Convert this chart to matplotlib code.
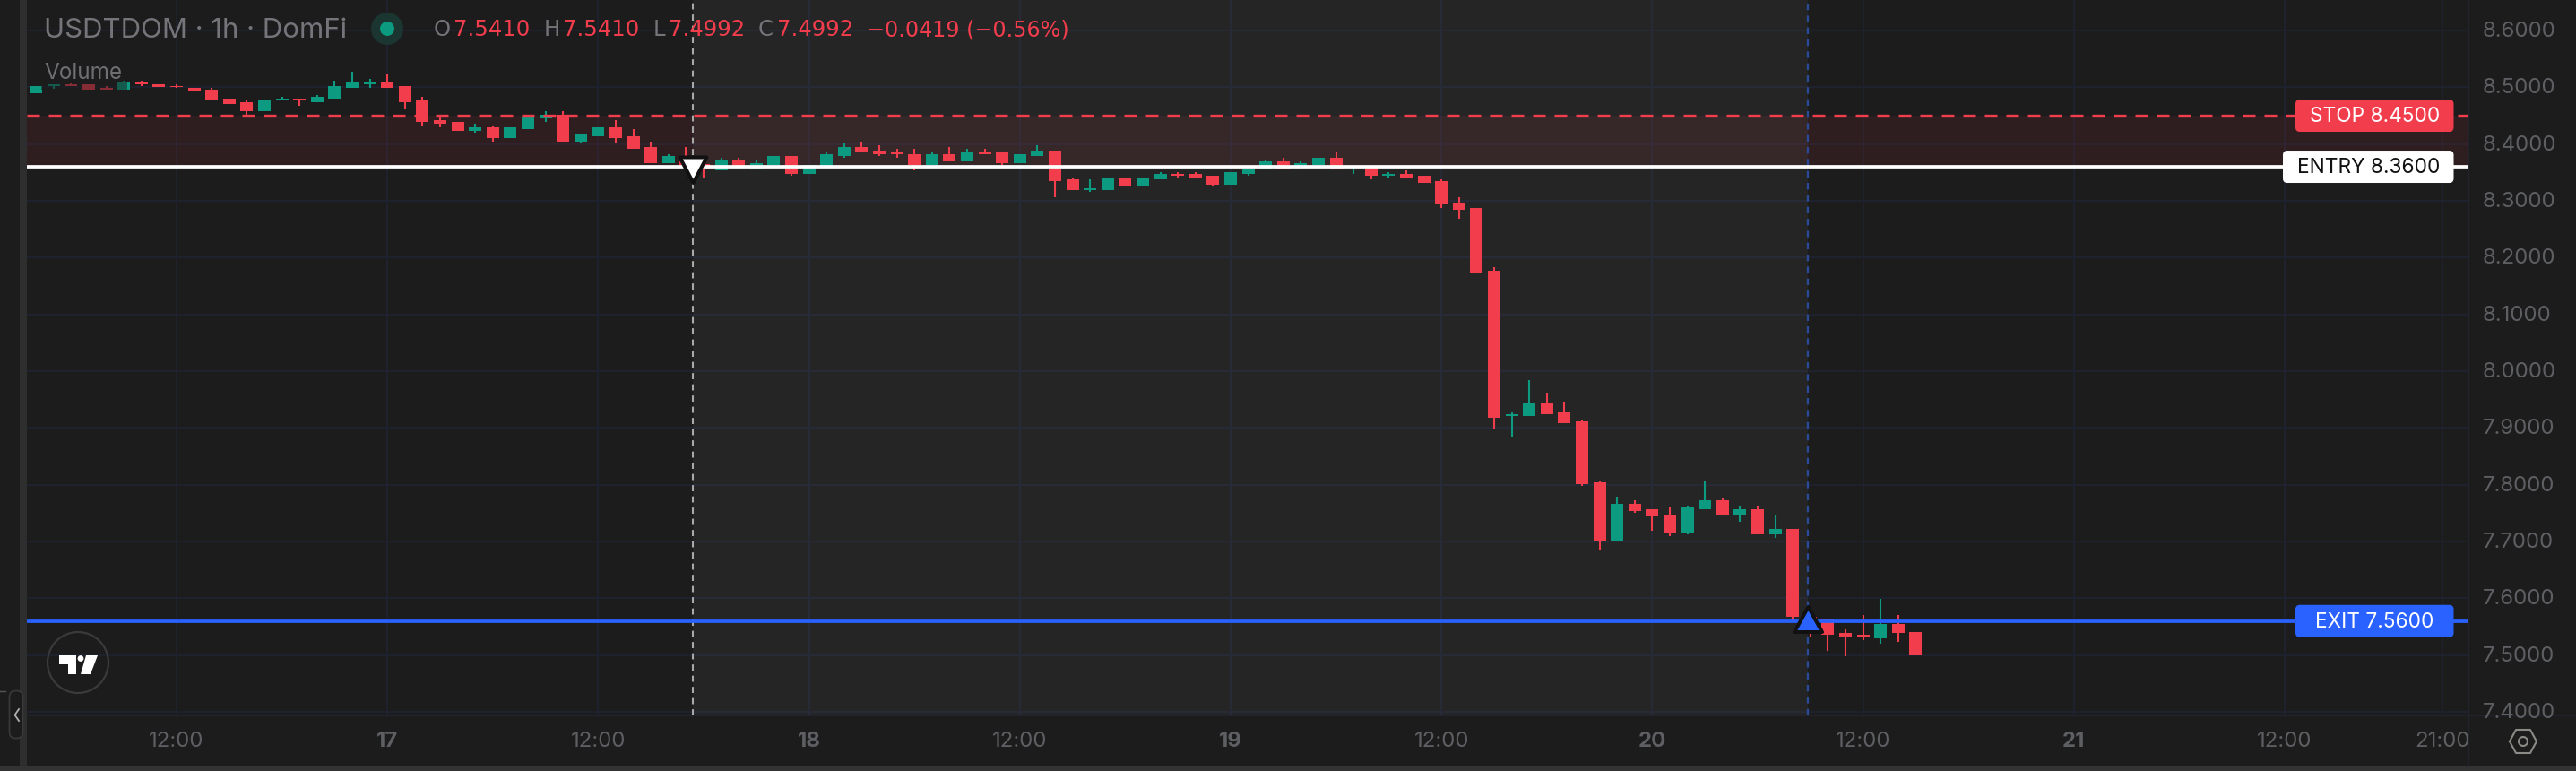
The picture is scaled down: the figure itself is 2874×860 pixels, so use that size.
import matplotlib
matplotlib.use("Agg")
import matplotlib.pyplot as plt
from matplotlib.markers import MarkerStyle
from matplotlib.patches import Circle, FancyBboxPatch, Polygon, Rectangle
from matplotlib.path import Path
from matplotlib.transforms import Bbox

plt.rcParams["font.family"] = ["Inter", "DejaVu Sans"]

# hours counted from 16th 12:00, first bar is 04:00
first_hour = -8
opens = [8.489, 8.502, 8.505, 8.505, 8.499, 8.496, 8.508, 8.505, 8.502, 8.499, 8.496, 8.480, 8.474, 8.458, 8.477, 8.480, 8.474, 8.480, 8.499, 8.505,
         8.508, 8.502, 8.477, 8.442, 8.439, 8.423, 8.430, 8.411, 8.426, 8.445, 8.452, 8.404, 8.414, 8.430, 8.414, 8.395, 8.366, 8.370, 8.365, 8.354,
         8.373, 8.357, 8.363, 8.379, 8.347, 8.360, 8.379, 8.395, 8.388, 8.385, 8.382, 8.363, 8.382, 8.370, 8.385, 8.385, 8.366, 8.379, 8.388, 8.338,
         8.319, 8.319, 8.341, 8.325, 8.338, 8.347, 8.347, 8.344, 8.328, 8.347, 8.357, 8.370, 8.360, 8.363, 8.376, 8.359, 8.360, 8.344, 8.347, 8.344,
         8.335, 8.297, 8.287, 8.177, 7.921, 7.921, 7.943, 7.928, 7.912, 7.804, 7.700, 7.766, 7.757, 7.748, 7.716, 7.757, 7.773, 7.748, 7.757, 7.713,
         7.722, 7.568, 7.564, 7.539, 7.536, 7.530, 7.555, 7.5410]
highs = [8.502, 8.505, 8.507, 8.505, 8.502, 8.511, 8.512, 8.505, 8.505, 8.499, 8.499, 8.480, 8.477, 8.477, 8.483, 8.480, 8.486, 8.512, 8.527, 8.514,
         8.524, 8.502, 8.483, 8.449, 8.439, 8.436, 8.433, 8.430, 8.452, 8.458, 8.458, 8.417, 8.430, 8.442, 8.426, 8.404, 8.382, 8.395, 8.365, 8.376,
         8.376, 8.373, 8.379, 8.379, 8.363, 8.385, 8.401, 8.404, 8.398, 8.392, 8.392, 8.385, 8.395, 8.392, 8.392, 8.385, 8.382, 8.398, 8.388, 8.341,
         8.338, 8.341, 8.341, 8.341, 8.351, 8.351, 8.351, 8.344, 8.351, 8.357, 8.373, 8.376, 8.370, 8.376, 8.385, 8.363, 8.360, 8.351, 8.354, 8.344,
         8.338, 8.306, 8.287, 8.183, 7.928, 7.984, 7.962, 7.946, 7.915, 7.808, 7.779, 7.773, 7.757, 7.760, 7.763, 7.808, 7.776, 7.763, 7.763, 7.748,
         7.722, 7.571, 7.564, 7.545, 7.571, 7.599, 7.571, 7.5410]
lows = [8.489, 8.497, 8.502, 8.496, 8.496, 8.496, 8.502, 8.500, 8.499, 8.493, 8.477, 8.471, 8.452, 8.458, 8.477, 8.467, 8.474, 8.480, 8.499, 8.499,
        8.499, 8.461, 8.433, 8.430, 8.423, 8.420, 8.404, 8.411, 8.426, 8.439, 8.404, 8.401, 8.414, 8.401, 8.392, 8.366, 8.366, 8.359, 8.341, 8.354,
        8.360, 8.357, 8.363, 8.344, 8.347, 8.360, 8.376, 8.385, 8.379, 8.376, 8.354, 8.363, 8.370, 8.370, 8.382, 8.363, 8.366, 8.379, 8.306, 8.319,
        8.316, 8.319, 8.325, 8.325, 8.338, 8.341, 8.341, 8.325, 8.328, 8.344, 8.357, 8.357, 8.357, 8.363, 8.357, 8.347, 8.338, 8.341, 8.341, 8.332,
        8.288, 8.269, 8.174, 7.899, 7.883, 7.921, 7.924, 7.909, 7.798, 7.684, 7.700, 7.751, 7.719, 7.710, 7.713, 7.757, 7.748, 7.735, 7.713, 7.706,
        7.558, 7.533, 7.508, 7.498, 7.526, 7.520, 7.523, 7.4992]
closes = [8.502, 8.505, 8.502, 8.496, 8.496, 8.508, 8.505, 8.500, 8.500, 8.493, 8.477, 8.471, 8.458, 8.477, 8.480, 8.477, 8.483, 8.502, 8.508, 8.508,
          8.499, 8.474, 8.439, 8.436, 8.423, 8.430, 8.411, 8.430, 8.449, 8.452, 8.404, 8.417, 8.430, 8.411, 8.392, 8.366, 8.379, 8.359, 8.355, 8.373,
          8.360, 8.366, 8.379, 8.347, 8.363, 8.382, 8.395, 8.385, 8.382, 8.382, 8.363, 8.382, 8.370, 8.385, 8.382, 8.366, 8.382, 8.388, 8.335, 8.319,
          8.322, 8.341, 8.325, 8.341, 8.347, 8.344, 8.341, 8.328, 8.351, 8.357, 8.370, 8.357, 8.366, 8.376, 8.357, 8.360, 8.344, 8.347, 8.341, 8.332,
          8.294, 8.284, 8.174, 7.918, 7.924, 7.943, 7.924, 7.909, 7.801, 7.700, 7.766, 7.754, 7.744, 7.716, 7.760, 7.773, 7.748, 7.757, 7.713, 7.722,
          7.568, 7.549, 7.536, 7.533, 7.533, 7.555, 7.539, 7.4992]

price_ticks = [8.6, 8.5, 8.4, 8.3, 8.2, 8.1, 8.0, 7.9, 7.8, 7.7, 7.6, 7.5, 7.4]
time_ticks = [0, 12, 24, 36, 48, 60, 72, 84, 96, 108, 120, 129]
time_labels = ["12:00", "17", "12:00", "18", "12:00", "19", "12:00", "20", "12:00", "21", "12:00", "21:00"]

stop_price = 8.45
entry_price = 8.36
exit_price = 7.56
entry_hour = 29.4
exit_hour = 92.86

BG = "#1c1c1c"
RED = "#f23d4d"
GREEN = "#0c9a80"
BLUE = "#2962ff"
GRID = "#1f2231"
AXIS_TEXT = "#5e5f63"

fig = plt.figure(figsize=(28.74, 8.6), dpi=100, facecolor=BG)
ax = fig.add_axes([30 / 2874, 1 - 798 / 860, (2754 - 30) / 2874, 798 / 860])
ax.set_facecolor(BG)
ax.set_xlim(-8.52, 130.46)
ax.set_ylim(7.3938, 8.6537)
ax.set_xticks(time_ticks)
ax.set_yticks(price_ticks)
ax.tick_params(length=0, labelbottom=False, labelleft=False)
ax.grid(True, color=GRID, linewidth=1.3, zorder=0)
ax.set_axisbelow(True)
for s in ax.spines.values():
    s.set_visible(False)

# trade span and risk zone
ax.axvspan(entry_hour, exit_hour, color="white", alpha=0.045, lw=0, zorder=1)
ax.axhspan(entry_price, stop_price, color=RED, alpha=0.085, lw=0, zorder=1)

# candles
for i, (o, h, l, c) in enumerate(zip(opens, highs, lows, closes)):
    t = first_hour + i
    col = GREEN if c >= o else RED
    ax.vlines(t, l, h, color=col, linewidth=1.5, zorder=3)
    ax.bar(t, abs(c - o), bottom=min(o, c), width=0.714, color=col, linewidth=0, zorder=3)

ax.axhline(stop_price, color=RED, linewidth=2.4, linestyle=(0, (4.2, 3.0)), zorder=4)
ax.axhline(entry_price, color="white", linewidth=2.7, zorder=4)
ax.axhline(exit_price, color=BLUE, linewidth=2.7, zorder=4)
ax.axvline(entry_hour, color="#a8a8a8", linewidth=1.5, linestyle=(0, (3.3, 2.7)), zorder=2)
ax.axvline(exit_hour, color="#2a4a9c", linewidth=1.6, linestyle=(0, (3.3, 2.7)), zorder=2)

# trade arrows, tip sits past the price so the shape is not centred
down_tri = Path([(-15, 11), (15, 11), (0, -17.5), (-15, 11)], closed=True)
up_tri = Path([(-15.5, -11.5), (15.5, -11.5), (0, 16.5), (-15.5, -11.5)], closed=True)
ax.plot([entry_hour], [entry_price], marker=MarkerStyle(down_tri, joinstyle="miter"), ms=25.2,
        mfc="white", mec="#111111", mew=2.9, zorder=6, ls="none")
ax.plot([exit_hour], [exit_price], marker=MarkerStyle(up_tri, joinstyle="miter"), ms=23.8,
        mfc=BLUE, mec="#111111", mew=2.9, zorder=6, ls="none")

# overlay in pixels for the terminal chrome
ov = fig.add_axes([0, 0, 1, 1], facecolor="none")
ov.set_xlim(0, 2874)
ov.set_ylim(860, 0)
ov.axis("off")


def price_y(p):
    return 860 - ax.transData.transform((0, p))[1]


def hour_x(t):
    return ax.transData.transform((t, 0))[0]


ov.add_patch(Rectangle((22, 0), 8, 860, color="#2e2e2e", lw=0))
ov.add_patch(Rectangle((0, 854), 2874, 6, color="#333333", lw=0))
ov.plot([2754, 2754], [0, 854], color="#22252f", lw=1.3)
ov.plot([30, 2874], [798, 798], color="#22252f", lw=1.3)
ov.plot([0, 6], [770.5, 770.5], color="#555555", lw=1)

# legend backdrop dims the first candles
ov.add_patch(Rectangle((46, 68), 96, 32, color=BG, alpha=0.5, lw=0))
ov.text(49, 82, "Volume", color="#6e6e73", fontsize=17.5, va="center", ha="left")

ov.text(49, 34.5, "USDTDOM · 1h · DomFi", color="#74747a", fontsize=22.4, va="center", ha="left")
ov.add_patch(Circle((432, 32), 18, color="#1b3531", lw=0))
ov.add_patch(Circle((432, 32), 8, color="#0c9a80", lw=0))

# ohlc header, wide digits here so DejaVu fits better than Inter
header = [(484, 506.5, "O", "7.5410"), (607, 628, "H", "7.5410"), (729, 746.5, "L", "7.4992"), (846, 867, "C", "7.4992")]
for x0, x1, letter, val in header:
    ov.text(x0, 33, letter, color="#74747a", fontsize=17.6, family="DejaVu Sans", va="center", ha="left")
    ov.text(x1, 33, val, color=RED, fontsize=17.6, family="DejaVu Sans", va="center", ha="left")
ov.text(967, 33, "−0.0419 (−0.56%)", color=RED, fontsize=17.2, family="DejaVu Sans", va="center", ha="left")

# axis labels
for p in price_ticks:
    ov.text(2770, price_y(p) + 1, f"{p:.4f}", color=AXIS_TEXT, fontsize=17.3, va="center", ha="left", clip_on=False)
clip = Bbox([[0, 0], [2754, 860]])
for t, lab in zip(time_ticks, time_labels):
    weight = "bold" if ":" not in lab else "normal"
    txt = ov.text(hour_x(t), 827, lab, color=AXIS_TEXT, fontsize=17.3, va="center", ha="center", weight=weight)
    txt.set_clip_box(clip)
    txt.set_clip_on(True)

# price tags
tags = [("STOP 8.4500", stop_price, 2561, RED, "white"),
        ("ENTRY 8.3600", entry_price, 2547, "white", "#111111"),
        ("EXIT 7.5600", exit_price, 2561, BLUE, "white")]
for lab, p, left, face, ink in tags:
    y = price_y(p)
    ov.add_patch(FancyBboxPatch((left + 5, y - 13), 2737.5 - left - 10, 26,
                                boxstyle="round,pad=5,rounding_size=5", fc=face, ec="none", zorder=7))
    ov.text((left + 2737.5) / 2, y + 1, lab, color=ink, fontsize=16.3, va="center", ha="center", zorder=8)

# logo badge
ov.add_patch(Circle((87, 739), 34, fc="none", ec="#3a3a3a", lw=1.6))
ov.add_patch(Polygon([(66, 731), (85, 731), (85, 752), (76, 752), (76, 741), (66, 741)], fc="white", ec="none"))
ov.add_patch(Polygon([(96, 731), (109, 731), (101, 752), (90, 752)], fc="white", ec="none"))
ov.add_patch(Circle((90, 734.5), 3.4, fc="white", ec="none"))

# collapse button
ov.add_patch(FancyBboxPatch((16, 776), 4, 42, boxstyle="round,pad=5.5,rounding_size=7", fc=BG, ec="#3a3a3a", lw=1.2))
ov.plot([21, 16.5, 21], [791, 797.5, 804], color="#b0b0b0", lw=1.3)

# settings hexagon
hex_x = [2800, 2807, 2823, 2830, 2823, 2807, 2800]
hex_y = [827, 814, 814, 827, 840, 840, 827]
ov.plot(hex_x, hex_y, color="#8a8a86", lw=1.5)
ov.add_patch(Circle((2815, 827), 5, fc="none", ec="#8a8a86", lw=1.5))

fig.savefig("out.png", dpi=100, facecolor=BG)
